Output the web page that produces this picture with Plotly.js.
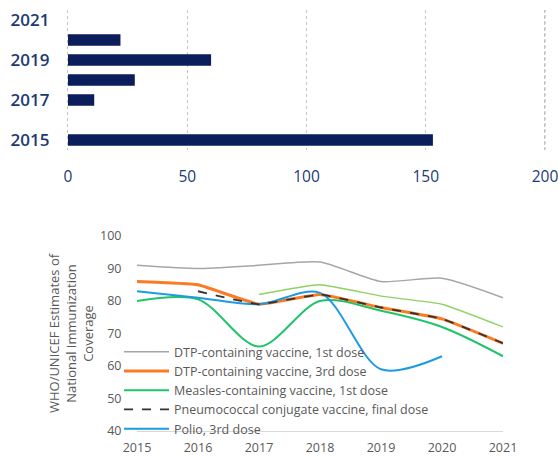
<!DOCTYPE html>
<html><head><meta charset="utf-8">
<script src="https://cdn.plot.ly/plotly-3.0.1.min.js"></script>
<style>html,body{margin:0;padding:0;background:#fff}#c{width:558px;height:456px}</style>
</head><body><div id="c"></div>
<script>
// Top chart data
const barYears = [2015, 2016, 2017, 2018, 2019, 2020, 2021];
const barValues = [153, 0, 11, 28, 60, 22, 0];
const barYTicks = [2015, 2017, 2019, 2021];
const barXTicks = [0, 50, 100, 150, 200];

// Bottom chart data
const years = [2015, 2016, 2017, 2018, 2019, 2020, 2021];
const dtp1 = [91, 90, 91, 92, 86, 87, 81];
const dtp3 = [86, 85, 79, 82, 78, 74.5, 67];
const measles1 = [80, 80.5, 66, 80, 77, 72, 63];
const measlesExtra = [null, null, 82, 85, 81.5, 79, 72];
const pcv = [null, 83, 79, 82, 78, 74.5, 67];
const polio3 = [83, 81, 79, 82.5, 59, 63, null];
const lineYTicks = [40, 50, 60, 70, 80, 90, 100];

const navy = '#1c3a73';
const grey = '#595959';
const font = 'Open Sans, sans-serif';

const traces = [
  {type:'bar', orientation:'h', x: barValues, y: barYears, xaxis:'x', yaxis:'y',
   marker:{color:'#0b1d5a'}, width:0.58, showlegend:false},
  {type:'scatter', mode:'lines', x: years, y: dtp1, xaxis:'x2', yaxis:'y2',
   name:'DTP-containing vaccine, 1st dose', legendrank:1,
   line:{color:'#a6a6a6', width:1.5, shape:'spline', smoothing:0.6}},
  {type:'scatter', mode:'lines', x: years, y: measlesExtra, xaxis:'x2', yaxis:'y2',
   name:'', showlegend:false,
   line:{color:'#8fd262', width:1.3, shape:'spline', smoothing:0.4}},
  {type:'scatter', mode:'lines', x: years, y: dtp3, xaxis:'x2', yaxis:'y2',
   name:'DTP-containing vaccine, 3rd dose', legendrank:2,
   line:{color:'#fb7a24', width:3, shape:'spline', smoothing:0.3}},
  {type:'scatter', mode:'lines', x: years, y: measles1, xaxis:'x2', yaxis:'y2',
   name:'Measles-containing vaccine, 1st dose', legendrank:3,
   line:{color:'#1fc46a', width:2, shape:'spline', smoothing:0.9}},
  {type:'scatter', mode:'lines', x: years, y: polio3, xaxis:'x2', yaxis:'y2',
   name:'Polio, 3rd dose', legendrank:5,
   line:{color:'#1e9be0', width:2, shape:'spline', smoothing:0.9}},
  {type:'scatter', mode:'lines', x: years, y: pcv, xaxis:'x2', yaxis:'y2',
   name:'Pneumococcal conjugate vaccine, final dose', legendrank:4,
   line:{color:'#333333', width:1.8, dash:'dash', shape:'spline', smoothing:0.3}}
];

const pxPerUnit = (545 - 68) / 200;
const lastTick = barXTicks[barXTicks.length - 1];
const layout = {
  width:558, height:456,
  margin:{l:0, r:0, t:0, b:0, autoexpand:false},
  paper_bgcolor:'#fff', plot_bgcolor:'#fff',
  font:{family:font, color:grey, size:12.5},
  showlegend:true,
  legend:{x:119/558, y:1-337/456, xanchor:'left', yanchor:'top', bgcolor:'rgba(0,0,0,0)',
          font:{family:font, size:12.5, color:grey}, itemwidth:45},
  shapes:[{type:'line', xref:'x', yref:'paper', x0:lastTick, x1:lastTick,
           y0:1-150/456, y1:1-10/456,
           line:{color:'#bdbdbd', width:1.2, dash:'dot'}, layer:'above'}],
  xaxis:{domain:[(68 - 0.5*pxPerUnit)/558, (68 + 203*pxPerUnit)/558], anchor:'y', range:[-0.5, 203], tickvals:barXTicks,
         showgrid:true, gridcolor:'#c4c4c4', griddash:'dot', gridwidth:1, zeroline:false,
         showline:false, ticks:'outside', ticklen:12, tickcolor:'rgba(0,0,0,0)',
         ticklabeloverflow:'allow',
         tickfont:{family:font, size:15.5, color:navy}},
  yaxis:{domain:[1-150/456, 1-10/456], anchor:'x', range:[2014.5, 2021.5], tickvals:barYTicks,
         showgrid:false, zeroline:false, showline:false, ticks:'outside', ticklen:13,
         tickcolor:'rgba(0,0,0,0)', tickfont:{family:font, size:17, color:navy, weight:600}},
  xaxis2:{domain:[137/558, 503/558], anchor:'y2', range:[2015, 2021], tickvals:years,
          showgrid:false, zeroline:false, showline:true, linecolor:'#d9d9d9', linewidth:1,
          ticks:'outside', ticklen:5, tickcolor:'rgba(0,0,0,0)',
          tickfont:{family:font, size:12.5, color:grey}},
  yaxis2:{domain:[1-431/456, 1-236/456], anchor:'x2', range:[40, 100], tickvals:lineYTicks,
          showgrid:false, zeroline:false, showline:false, ticks:'outside', ticklen:12,
          tickcolor:'rgba(0,0,0,0)', tickfont:{family:font, size:12.5, color:grey},
          title:{text:'WHO/UNICEF Estimates of<br>National Immunization<br>Coverage',
                 font:{family:font, size:13, color:grey}, standoff:3}}
};

Plotly.newPlot('c', traces, layout, {staticPlot:true, displayModeBar:false});
</script></body></html>
